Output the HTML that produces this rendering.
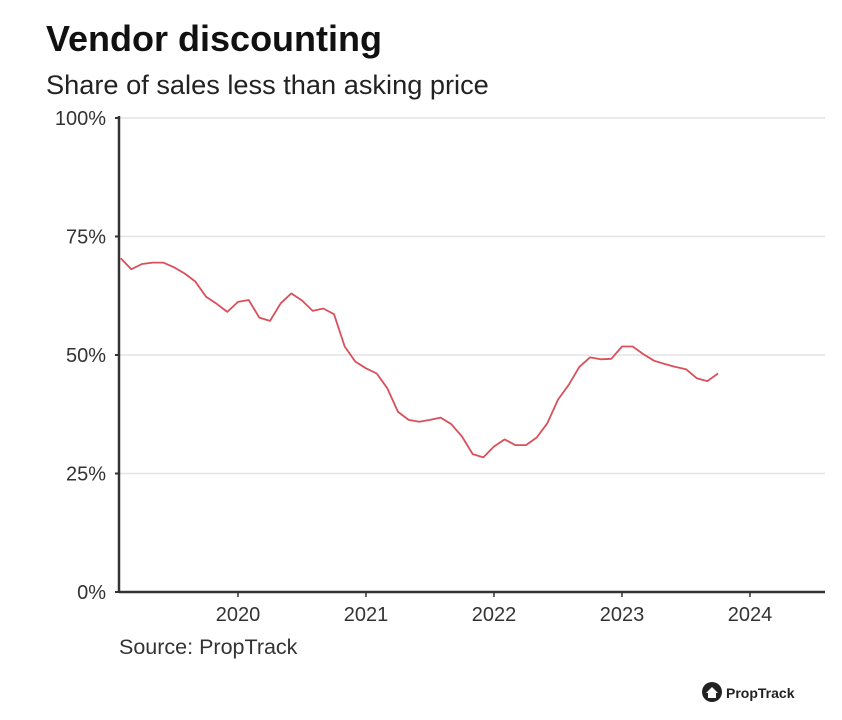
<!DOCTYPE html>
<html><head><meta charset="utf-8"><style>
body{margin:0;background:#fff;font-family:"Liberation Sans",sans-serif;}
#wrap{position:relative;width:842px;height:720px;overflow:hidden;}
</style></head><body>
<div id="wrap">
<svg id="chart" width="842" height="720">
<text x="46" y="51" font-size="36" font-weight="bold" fill="#111">Vendor discounting</text>
<text x="46" y="94" font-size="27.2" fill="#222">Share of sales less than asking price</text>
<text x="119" y="654" font-size="21.5" fill="#333">Source: PropTrack</text>
<g>
<circle cx="712" cy="692" r="10" fill="#222"/>
<path d="M706 693 L712 687 L718 693 L716 693 L716 698 L708 698 L708 693 Z" fill="#fff"/>
<text x="726" y="698" font-size="14" font-weight="bold" fill="#222">PropTrack</text>
</g>
</svg>
</div>
<script>
const months=["2019-02","2019-03","2019-04","2019-05","2019-06","2019-07","2019-08","2019-09","2019-10","2019-11","2019-12","2020-01","2020-02","2020-03","2020-04","2020-05","2020-06","2020-07","2020-08","2020-09","2020-10","2020-11","2020-12","2021-01","2021-02","2021-03","2021-04","2021-05","2021-06","2021-07","2021-08","2021-09","2021-10","2021-11","2021-12","2022-01","2022-02","2022-03","2022-04","2022-05","2022-06","2022-07","2022-08","2022-09","2022-10","2022-11","2022-12","2023-01","2023-02","2023-03","2023-04","2023-05","2023-06","2023-07","2023-08","2023-09","2023-10"];
const shares=[70.4,68.1,69.2,69.5,69.5,68.5,67.2,65.5,62.3,60.8,59.1,61.2,61.6,57.9,57.2,60.9,63.0,61.5,59.3,59.8,58.6,51.8,48.6,47.2,46.1,43.0,38.0,36.3,35.9,36.3,36.8,35.4,32.8,29.1,28.4,30.7,32.2,31.0,31.0,32.6,35.6,40.6,43.7,47.5,49.5,49.1,49.2,51.8,51.8,50.2,48.8,48.1,47.5,47.0,45.1,44.5,46.1];
const yTicks=[0,25,50,75,100];
const xYears=[2020,2021,2022,2023,2024];
const NS="http://www.w3.org/2000/svg";
const svg=document.getElementById('chart');
const x0=119,x1=825,y0=592,y1=118;
function xs(t){return 238+(t-2020)*128;}
function ys(v){return y0-(v/100)*(y0-y1);}
function mt(s){const p=s.split('-');return +p[0]+(+p[1]-1)/12;}
function mk(tag,attrs){const e=document.createElementNS(NS,tag);for(const k in attrs)e.setAttribute(k,attrs[k]);svg.appendChild(e);return e;}
yTicks.forEach(v=>{
  const y=ys(v);
  if(v>0){const g=mk('line',{x1:x0,x2:x1,y1:y,y2:y,stroke:'#e3e3e3','stroke-width':1.5});
  
  }
  const tk=mk('line',{x1:x0-4,x2:x0,y1:y,y2:y,stroke:'#333','stroke-width':2});
  
  
  const t=mk('text',{x:106,y:y+7,'font-size':20,fill:'#333','text-anchor':'end'});
  t.textContent=v+'%';
  
  
});
xYears.forEach(yr=>{
  const x=xs(yr);
  const tk=mk('line',{x1:x,x2:x,y1:y0,y2:y0+5,stroke:'#333','stroke-width':1.5});
  
  
  const t=mk('text',{x:x,y:621,'font-size':20,fill:'#333','text-anchor':'middle'});
  t.textContent=yr;
  
  
});
const ya=mk('line',{x1:x0,x2:x0,y1:y1-2,y2:y0,stroke:'#333','stroke-width':2.5});


const xa=mk('line',{x1:x0,x2:x1,y1:y0,y2:y0,stroke:'#333','stroke-width':2.5});


const pts=shares.map((v,i)=>xs(mt(months[i])).toFixed(1)+','+ys(v).toFixed(1)).join(' ');
const line=mk('polyline',{points:pts,fill:'none',stroke:'#d9505a','stroke-width':1.8,'stroke-linejoin':'round'});


</script>
</body></html>
